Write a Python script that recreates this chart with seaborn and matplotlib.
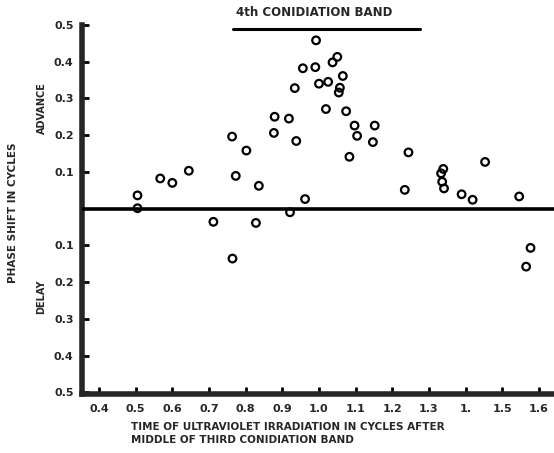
import matplotlib
matplotlib.use("Agg")
import matplotlib.pyplot as plt
import seaborn as sns
import pandas as pd

# ---- data ----
time_cycles = [0.505, 0.505, 0.567, 0.600, 0.645, 0.712, 0.763, 0.764, 0.773, 0.802,
               0.828, 0.836, 0.877, 0.879, 0.918, 0.921, 0.934, 0.938, 0.956, 0.962,
               0.990, 0.992, 1.000, 1.019, 1.025, 1.037, 1.050, 1.054, 1.057, 1.065,
               1.074, 1.083, 1.097, 1.104, 1.147, 1.152, 1.234, 1.244, 1.333, 1.336,
               1.339, 1.341, 1.389, 1.419, 1.453, 1.546, 1.565, 1.577]
phase_shift = [0.036, 0.001, 0.082, 0.070, 0.103, -0.036, 0.196, -0.136, 0.089, 0.158,
               -0.039, 0.062, 0.206, 0.250, 0.245, -0.010, 0.328, 0.184, 0.382, 0.026,
               0.385, 0.458, 0.340, 0.271, 0.345, 0.398, 0.413, 0.316, 0.329, 0.361,
               0.265, 0.141, 0.226, 0.198, 0.181, 0.226, 0.051, 0.153, 0.096, 0.073,
               0.108, 0.055, 0.039, 0.024, 0.127, 0.033, -0.158, -0.107]

x_ticks = [0.4, 0.5, 0.6, 0.7, 0.8, 0.9, 1.0, 1.1, 1.2, 1.3, 1.4, 1.5, 1.6]
x_tick_labels = ["0.4", "0.5", "0.6", "0.7", "0.8", "0.9", "1.0", "1.1", "1.2", "1.3", "1.", "1.5", "1.6"]
y_ticks = [0.5, 0.4, 0.3, 0.2, 0.1, -0.1, -0.2, -0.3, -0.4, -0.5]
y_tick_labels = ["0.5", "0.4", "0.3", "0.2", "0.1", "0.1", "0.2", "0.3", "0.4", "0.5"]

band_label = "4th CONIDIATION BAND"
band_start, band_end = 0.765, 1.275

df = pd.DataFrame({"time": time_cycles, "shift": phase_shift})

sns.set_style("ticks")
plt.rcParams["font.family"] = ["DejaVu Sans"]

fig = plt.figure(figsize=(5.54, 4.53), dpi=100)
ax = fig.add_axes([0.148, 0.130, 0.852, 0.815])

sns.scatterplot(data=df, x="time", y="shift", ax=ax, marker="o", s=30,
                facecolor="none", edgecolor="black", linewidth=1.6, zorder=2,
                legend=False)

ax.axhline(0, color="black", lw=2.6, zorder=3)

ax.set_xlim(0.3536, 1.641)
ax.set_ylim(-0.505, 0.5)

ax.set_xticks(x_ticks)
ax.set_xticklabels(x_tick_labels, fontsize=8, fontweight="bold")
ax.set_yticks(y_ticks)
ax.set_yticklabels(y_tick_labels, fontsize=8, fontweight="bold")
ax.tick_params(axis="both", direction="in", length=5, width=2, color="black", pad=6)
ax.tick_params(axis="x", pad=7)

for side in ["top", "right"]:
    ax.spines[side].set_visible(False)
ax.spines["left"].set_linewidth(4)
ax.spines["bottom"].set_linewidth(4)

ax.set_xlabel("")
ax.set_ylabel("")

# band marker at top
ax.plot([band_start, band_end], [0.49, 0.49], color="black", lw=2.2, clip_on=False, zorder=3)
ax.text(band_start + 0.01, 0.515, band_label, ha="left", va="bottom",
        fontsize=8.5, fontweight="bold", clip_on=False)

# axis titles
fig.text(0.023, 0.53, "PHASE SHIFT IN CYCLES", rotation=90, ha="center", va="center",
         fontsize=7.5, fontweight="bold")
fig.text(0.076, 0.762, "ADVANCE", rotation=90, ha="center", va="center",
         fontsize=7, fontweight="bold")
fig.text(0.074, 0.345, "DELAY", rotation=90, ha="center", va="center",
         fontsize=7, fontweight="bold")
fig.text(0.236, 0.057, "TIME OF ULTRAVIOLET IRRADIATION IN CYCLES AFTER",
         ha="left", va="center", fontsize=7.5, fontweight="bold")
fig.text(0.236, 0.028, "MIDDLE OF THIRD CONIDIATION BAND",
         ha="left", va="center", fontsize=7.5, fontweight="bold")

fig.savefig("out.png", dpi=100)
